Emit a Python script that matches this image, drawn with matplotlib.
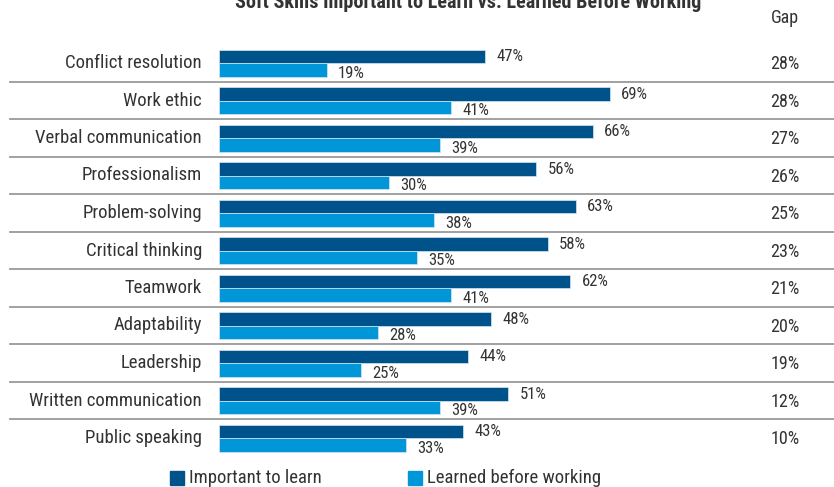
import matplotlib
matplotlib.use("Agg")
import matplotlib.pyplot as plt
from matplotlib.patches import Rectangle

skills = ["Conflict resolution", "Work ethic", "Verbal communication", "Professionalism",
          "Problem-solving", "Critical thinking", "Teamwork", "Adaptability",
          "Leadership", "Written communication", "Public speaking"]
important = [47, 69, 66, 56, 63, 58, 62, 48, 44, 51, 43]
learned = [19, 41, 39, 30, 38, 35, 41, 28, 25, 39, 33]
gap = [28, 28, 27, 26, 25, 23, 21, 20, 19, 12, 10]

DARK = "#00538a"
LIGHT = "#0096d8"
TXT = "#333333"

plt.rcParams['font.family'] = ['Roboto Condensed', 'DejaVu Sans']

W, H = 834, 487
fig = plt.figure(figsize=(W / 100, H / 100), dpi=100)
ax = fig.add_axes([0, 0, 1, 1])

ppu = 5.667          # pixels per percent
x0 = 219             # pixel of zero
row = 37.5           # pixels per row
y0 = 63              # pixel of first row
ax.set_xlim(-x0 / ppu, (W - x0) / ppu)
ax.set_ylim((H - y0) / row, -y0 / row)
ax.axis("off")

bh = 0.36
pos = list(range(len(skills)))
ax.barh([p - bh / 2 for p in pos], important, height=bh, color=DARK, edgecolor="#d6e6f2", linewidth=0.5)
ax.barh([p + bh / 2 for p in pos], learned, height=bh, color=LIGHT, edgecolor="#d6e6f2", linewidth=0.5)

for i in pos:
    ax.text(-3, i, skills[i], ha="right", va="center", fontsize=13.5, color=TXT)
    ax.text(important[i] + 2, i - 0.17, f"{important[i]}%", ha="left", va="center", fontsize=12, color=TXT)
    ax.text(learned[i] + 2, i + 0.27, f"{learned[i]}%", ha="left", va="center", fontsize=12, color=TXT)
    ax.text(99.9, i + 0.03, f"{gap[i]}%", ha="center", va="center", fontsize=13, color=TXT)
    if i < len(skills) - 1:
        ax.plot([-209 / ppu, (W - x0) / ppu], [i + 0.5, i + 0.5], color="#9a9a9a", lw=1.3)

ax.text(99.9, -1.2, "Gap", ha="center", va="center", fontsize=13, color=TXT)
fig.text(468 / W, 1 - 3 / H, "Soft Skills Important to Learn vs. Learned Before Working",
         ha="center", va="center", fontsize=14.5, fontweight="bold", color=TXT)

# legend
for lx, label, c in [(170, "Important to learn", DARK), (408, "Learned before working", LIGHT)]:
    fig.patches.append(Rectangle((lx / W, 1 - 485 / H), 14 / W, 14 / H, color=c,
                                 transform=fig.transFigure, figure=fig))
    fig.text((lx + 19) / W, 1 - 478 / H, label, ha="left", va="center", fontsize=13.5, color=TXT)

fig.savefig("out.png", dpi=100)
